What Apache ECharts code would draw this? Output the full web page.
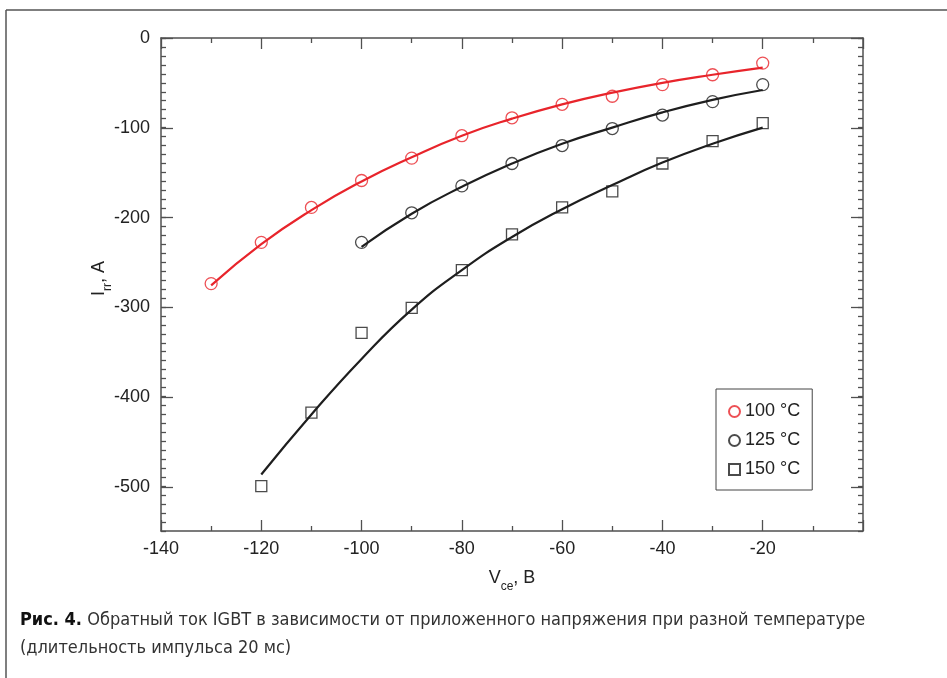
<!DOCTYPE html>
<html>
<head>
<meta charset="utf-8">
<title>Irr vs Vce</title>
<script src="https://cdn.jsdelivr.net/npm/echarts@6/dist/echarts.min.js"></script>
<style>
  html, body { margin: 0; padding: 0; background: #fff; }
  #chart { width: 947px; height: 678px; }
</style>
</head>
<body>
<div id="chart"></div>
<script>
// измеренные точки
const vce100 = [-130, -120, -110, -100, -90, -80, -70, -60, -50, -40, -30, -20]
const irr100 = [-274, -228, -189, -159, -134, -109, -89, -74, -65, -52, -41, -28]
const vce125 = [-100, -90, -80, -70, -60, -50, -40, -30, -20]
const irr125 = [-228, -195, -165, -140, -120, -101, -86, -71, -52]
const vce150 = [-120, -110, -100, -90, -80, -70, -60, -50, -40, -30, -20]
const irr150 = [-500, -418, -329, -301, -259, -219, -189, -171, -140, -115, -95]

// аппроксимирующие кривые
const fitV100 = [-130, -120, -110, -100, -90, -80, -70, -60, -50, -40, -30, -20]
const fitI100 = [-276, -230, -192, -160, -133, -109, -90, -74, -61, -50, -41, -33]
const fitV125 = [-100, -90, -80, -70, -60, -50, -40, -30, -20]
const fitI125 = [-233, -196, -166, -140, -118, -100, -83, -69, -58]
const fitV150 = [-120, -110, -100, -90, -80, -70, -60, -50, -40, -30, -20]
const fitI150 = [-487, -420, -358, -303, -259, -222, -191, -164, -139, -118, -100]

const legendNames = ['100 °C', '125 °C', '150 °C']
const xTicks = { min: -140, max: 0, step: 20 }
const yTicks = { min: -500, max: 0, step: 100 }

const zip = (xs, ys) => xs.map((x, i) => [x, ys[i]])

const RED = '#e8242b'
const BLACK = '#1e1e1e'
const AXIS = '#505050'
const FONT = 'Liberation Sans'
const CAPTION_FONT = 'DejaVu Sans Condensed'

const myChart = echarts.init(document.getElementById('chart'))

const tickStyle = { color: AXIS, width: 1.3 }
const axisLine = { show: true, onZero: false, lineStyle: { color: AXIS, width: 1.5 } }

myChart.setOption({
  animation: false,
  textStyle: { fontFamily: FONT },
  grid: [
    // вся область графика до -550
    { left: 161, top: 38, width: 702, height: 493 },
    // вспомогательная сетка -500..0 для больших делений оси Y
    { left: 161, top: 38, width: 702, height: 449 }
  ],
  legend: {
    data: legendNames,
    orient: 'vertical',
    left: 716,
    top: 389,
    padding: [12, 12, 10, 12],
    itemGap: 8,
    itemWidth: 11,
    itemHeight: 11,
    borderColor: '#444',
    borderWidth: 1,
    backgroundColor: '#fff',
    textStyle: { fontFamily: FONT, fontSize: 18, color: '#222', lineHeight: 21 }
  },
  xAxis: [
    {
      gridIndex: 0,
      type: 'value',
      position: 'bottom',
      min: xTicks.min,
      max: xTicks.max,
      interval: xTicks.step,
      axisLine: axisLine,
      axisTick: { inside: true, length: 11, lineStyle: tickStyle },
      minorTick: { show: true, splitNumber: 2, length: 5, lineStyle: tickStyle },
      splitLine: { show: false },
      axisLabel: {
        margin: 9,
        fontSize: 18,
        color: '#222',
        formatter: v => (v === 0 ? '' : String(v))
      },
      name: '{a|V}{b|ce}{a|, B}',
      nameLocation: 'middle',
      nameGap: 36,
      nameTextStyle: {
        rich: {
          a: { fontFamily: FONT, fontSize: 18, color: '#222', lineHeight: 22 },
          b: { fontFamily: FONT, fontSize: 12, color: '#222', lineHeight: 22, verticalAlign: 'bottom', padding: [0, 0, -4, 0] }
        }
      }
    },
    {
      gridIndex: 0,
      type: 'value',
      position: 'top',
      min: xTicks.min,
      max: xTicks.max,
      interval: xTicks.step,
      axisLine: axisLine,
      axisTick: { inside: true, length: 11, lineStyle: tickStyle },
      minorTick: { show: true, splitNumber: 2, length: 5, lineStyle: tickStyle },
      splitLine: { show: false },
      axisLabel: { show: false }
    },
    { gridIndex: 1, type: 'value', show: false, min: xTicks.min, max: xTicks.max }
  ],
  yAxis: [
    {
      gridIndex: 0,
      type: 'value',
      position: 'left',
      min: -550,
      max: 0,
      interval: 10,
      axisLine: axisLine,
      axisTick: { inside: true, length: 5, lineStyle: tickStyle },
      splitLine: { show: false },
      axisLabel: { show: false },
      name: '{a|I}{b|rr}{a|, A}',
      nameLocation: 'middle',
      nameGap: 51,
      nameRotate: 90,
      nameTextStyle: {
        padding: [0, 0, 0, 12],
        rich: {
          a: { fontFamily: FONT, fontSize: 18, color: '#222', lineHeight: 22 },
          b: { fontFamily: FONT, fontSize: 12, color: '#222', lineHeight: 22, verticalAlign: 'bottom', padding: [0, 0, -4, 0] }
        }
      }
    },
    {
      gridIndex: 0,
      type: 'value',
      position: 'right',
      min: -550,
      max: 0,
      interval: 10,
      axisLine: axisLine,
      axisTick: { inside: true, length: 5, lineStyle: tickStyle },
      splitLine: { show: false },
      axisLabel: { show: false }
    },
    {
      gridIndex: 1,
      type: 'value',
      position: 'left',
      min: yTicks.min,
      max: yTicks.max,
      interval: yTicks.step,
      axisLine: { show: false, onZero: false },
      axisTick: { inside: true, length: 12, lineStyle: tickStyle },
      splitLine: { show: false },
      axisLabel: { margin: 11, fontSize: 18, color: '#222' }
    },
    {
      gridIndex: 1,
      type: 'value',
      position: 'right',
      min: yTicks.min,
      max: yTicks.max,
      interval: yTicks.step,
      axisLine: { show: false, onZero: false },
      axisTick: { inside: true, length: 12, lineStyle: tickStyle },
      splitLine: { show: false },
      axisLabel: { show: false }
    }
  ],
  series: [
    {
      name: 'fit 100',
      type: 'line',
      smooth: true,
      showSymbol: false,
      data: zip(fitV100, fitI100),
      lineStyle: { color: RED, width: 2.2 },
      z: 2
    },
    {
      name: 'fit 125',
      type: 'line',
      smooth: true,
      showSymbol: false,
      data: zip(fitV125, fitI125),
      lineStyle: { color: BLACK, width: 2.2 },
      z: 2
    },
    {
      name: 'fit 150',
      type: 'line',
      smooth: true,
      showSymbol: false,
      data: zip(fitV150, fitI150),
      lineStyle: { color: BLACK, width: 2.2 },
      z: 2
    },
    {
      name: legendNames[0],
      type: 'scatter',
      symbol: 'circle',
      symbolSize: 12,
      data: zip(vce100, irr100),
      itemStyle: { color: 'rgba(255,255,255,0)', borderColor: RED, borderWidth: 1.3 },
      z: 3
    },
    {
      name: legendNames[1],
      type: 'scatter',
      symbol: 'circle',
      symbolSize: 12,
      data: zip(vce125, irr125),
      itemStyle: { color: 'rgba(255,255,255,0)', borderColor: BLACK, borderWidth: 1.3 },
      z: 3
    },
    {
      name: legendNames[2],
      type: 'scatter',
      symbol: 'rect',
      symbolSize: 11,
      data: zip(vce150, irr150),
      itemStyle: { color: 'rgba(255,255,255,0)', borderColor: BLACK, borderWidth: 1.3 },
      z: 3
    }
  ],
  graphic: [
    // рамка рисунка
    { type: 'line', shape: { x1: 6, y1: 10, x2: 947, y2: 10 }, style: { stroke: '#555', lineWidth: 1.5 } },
    { type: 'line', shape: { x1: 6, y1: 10, x2: 6, y2: 678 }, style: { stroke: '#555', lineWidth: 1.5 } },
    // подпись
    {
      type: 'text',
      left: 20,
      top: 611,
      style: {
        text: '{b|Рис. 4.} Обратный ток IGBT в зависимости от приложенного напряжения при разной температуре',
        font: '18px "' + CAPTION_FONT + '"',
        fill: '#333',
        rich: {
          b: { fontFamily: CAPTION_FONT, fontWeight: 'bold', fontSize: 18, fill: '#111' }
        }
      }
    },
    {
      type: 'text',
      left: 20,
      top: 639,
      style: {
        text: '(длительность импульса 20 мс)',
        font: '18px "' + CAPTION_FONT + '"',
        fill: '#333'
      }
    }
  ]
})
</script>
</body>
</html>
